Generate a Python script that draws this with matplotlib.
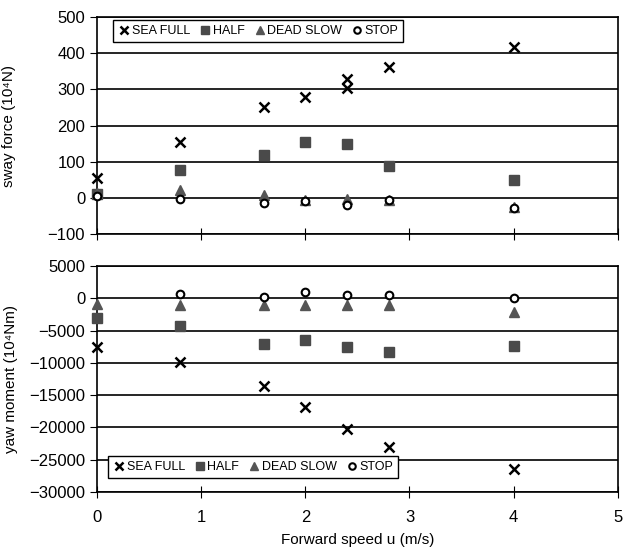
import numpy as np
import matplotlib
matplotlib.use('Agg')
from matplotlib import pyplot as plt

plt.rcParams['font.family'] = ['Liberation Sans', 'DejaVu Sans']

speed = [0, 0.8, 1.6, 2.0, 2.4, 2.4, 2.8, 4.0]

# sway force (10^4 N)
sway_sea_full = [55, 155, 251, 279, 330, 305, 362, 417]
sway_half = [11, 77, 119, 155, 149, np.nan, 88, 50]
sway_dead_slow = [15, 22, 8, -5, -2, np.nan, -5, -25]
sway_stop = [5, -3, -15, -8, -20, np.nan, -5, -28]

# yaw moment (10^4 Nm)
yaw_sea_full = [-7500, -9800, -13500, -16800, -20300, np.nan, -23000, -26400]
yaw_half = [-3000, -4300, -7100, -6400, -7500, np.nan, -8300, -7300]
yaw_dead_slow = [-800, -1000, -1000, -1000, -1000, np.nan, -1000, -2100]
yaw_stop = [np.nan, 700, 250, 1000, 500, np.nan, 500, 0]

labels = ['SEA FULL', 'HALF', 'DEAD SLOW', 'STOP']
styles = [
    dict(marker='x', color='black', markersize=7, mew=1.8),
    dict(marker='s', color='#4a4a4a', markersize=6.5),
    dict(marker='^', color='#555555', markersize=6.5),
    dict(marker='o', mfc='white', mec='black', markersize=5.5, mew=1.5),
]


def draw(ax, series, yticks):
    for vals, lab, st in zip(series, labels, styles):
        ax.plot(speed, vals, linestyle='none', label=lab, zorder=3,
                clip_on=False, **st)
    ax.set_xlim(0, 5)
    ax.set_ylim(yticks[0], yticks[-1])
    ax.set_yticks(yticks)
    ax.set_xticks([0, 1, 2, 3, 4, 5])
    for y in yticks:
        ax.axhline(y, color='black', lw=1.2, zorder=1)
    ax.tick_params(axis='y', direction='out', length=5, labelsize=12)
    ax.tick_params(axis='x', direction='inout', length=8, labelsize=12, pad=9)
    for s in ax.spines.values():
        s.set_linewidth(1.2)


fig = plt.figure(figsize=(6.23, 5.51), dpi=100)
ax1 = fig.add_axes([0.1557, 0.575, 0.836, 0.394])
ax2 = fig.add_axes([0.1557, 0.107, 0.836, 0.410])

legend_kw = dict(borderaxespad=0, ncol=4, fontsize=9, fancybox=False,
                 edgecolor='black', framealpha=1, handletextpad=0.1,
                 columnspacing=0.7, handlelength=1.0, borderpad=0.4,
                 markerscale=0.85)

draw(ax1, [sway_sea_full, sway_half, sway_dead_slow, sway_stop],
     [-100, 0, 100, 200, 300, 400, 500])
ax1.tick_params(axis='x', labelbottom=False)
ax1.set_ylabel('sway force (10⁴N)', fontsize=11)
ax1.yaxis.set_label_coords(-0.155, 0.5)
ax1.legend(loc='upper left', bbox_to_anchor=(0.031, 0.986), **legend_kw)

draw(ax2, [yaw_sea_full, yaw_half, yaw_dead_slow, yaw_stop],
     [-30000, -25000, -20000, -15000, -10000, -5000, 0, 5000])
ax2.set_ylabel('yaw moment (10⁴Nm)', fontsize=11)
ax2.yaxis.set_label_coords(-0.152, 0.5)
ax2.set_xlabel('Forward speed u (m/s)', fontsize=11, labelpad=6)
ax2.legend(loc='lower left', bbox_to_anchor=(0.021, 0.062), **legend_kw)

fig.savefig('out.png', dpi=100)
